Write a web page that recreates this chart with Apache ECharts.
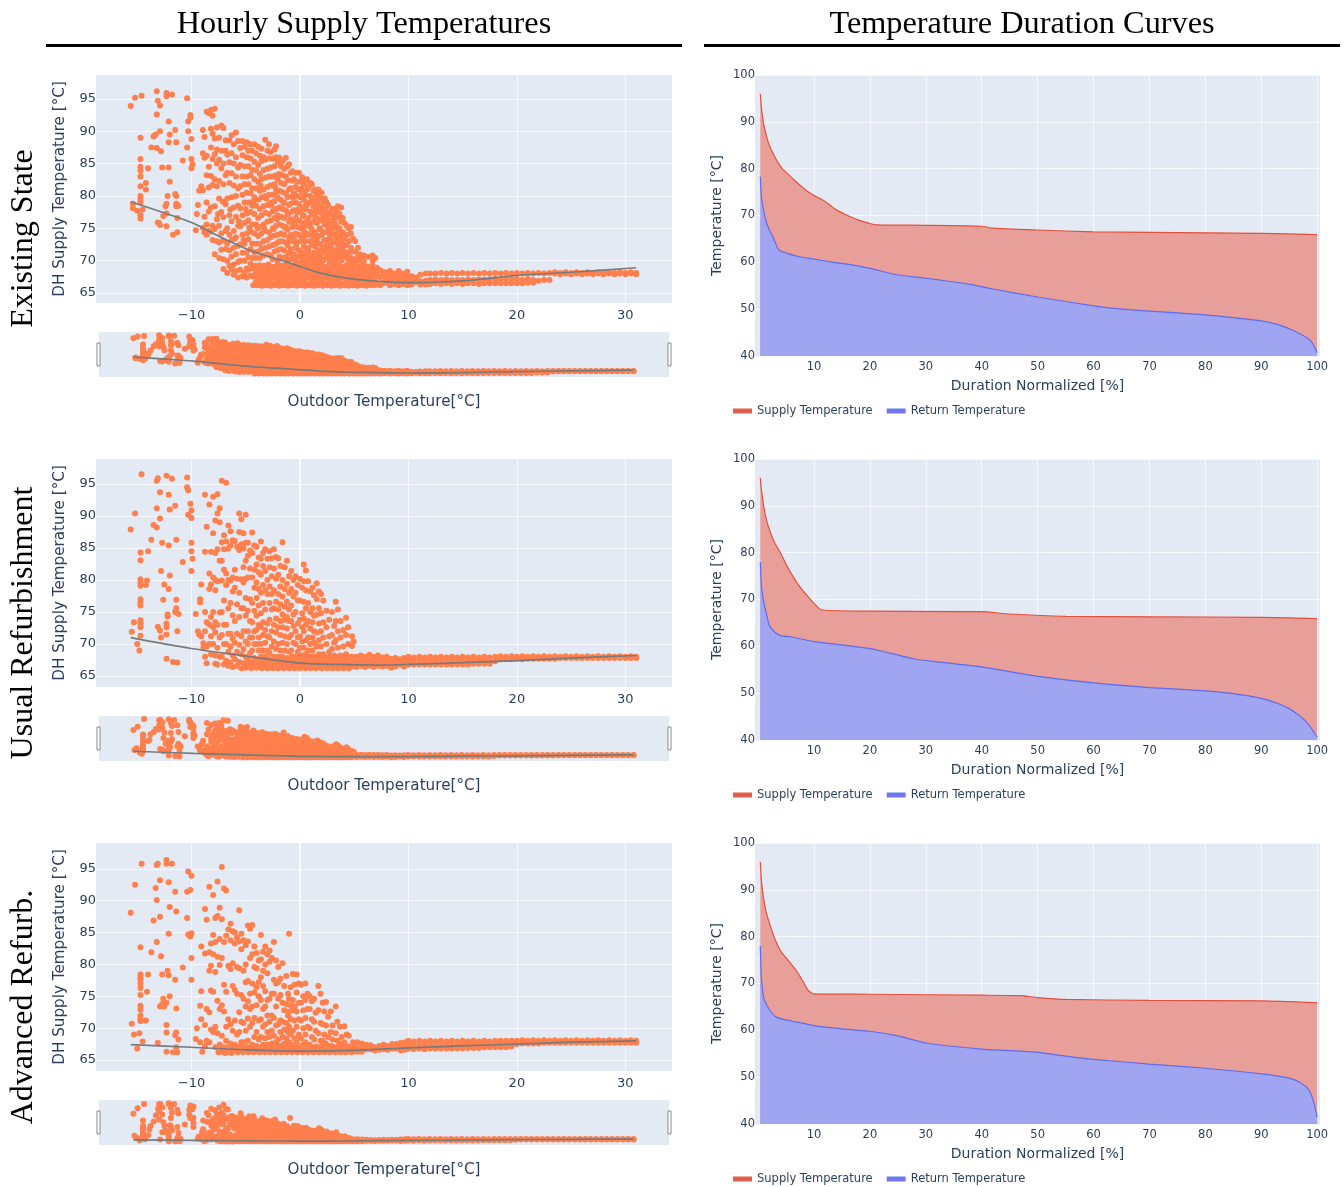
<!DOCTYPE html>
<html><head><meta charset="utf-8">
<style>html,body{margin:0;padding:0;background:#fff}#c{width:1344px;height:1187px}</style>
<script src="https://cdn.jsdelivr.net/npm/echarts@6/dist/echarts.min.js"></script>
</head><body><div id="c"></div>
<script>
const headers = ['Hourly Supply Temperatures','Temperature Duration Curves'];
const rowLabels = ['Existing State','Usual Refurbishment','Advanced Refurb.'];
const outdoorTicks = [-10,0,10,20,30];
const supplyTicks = [65,70,75,80,85,90,95];
const durationTicks = [10,20,30,40,50,60,70,80,90,100];

// scatter points: [outdoor, supply]
const existingSparse = [[-15.6,93.9],[-15.2,95.2],[-14.6,95.5],[-13.2,96.2],[-13.1,94.7],[-12.9,94],[-13.2,92.6],[-12.3,95.9],[-12.3,95.4],[-11.8,95.7],[-10.4,95.1],[-10.1,92.5],[-10.1,92.1],[-10.3,91.5],[-12.1,91.5],[-12.9,90],[-13.3,89.5],[-13.5,89.2],[-14.7,89],[-11.5,90.2],[-12,89.5],[-12.1,88.3],[-11.4,88.3],[-10.3,90],[-10,88.8],[-10.4,87.5],[-13.7,87.5],[-13.2,87.4],[-12.8,86.9],[-10.8,85.5],[-10,85.7],[-9.9,84.9],[-10,84.3],[-14.7,85.7],[-14.7,84.5],[-14.7,83.9],[-14.7,83],[-14,84.3],[-12.7,84.4],[-12.1,84.4],[-12,82.2],[-14.2,82],[-14.7,81.5],[-14.2,81],[-14.7,80],[-14.7,79.4],[-14.7,79],[-15.4,78.8],[-15.4,78.1],[-15,77.7],[-14.5,77.9],[-14.7,77],[-14.7,76.5],[-12.2,80],[-11.5,80.3],[-11.4,80],[-12.3,78.8],[-12.4,78.4],[-11.4,78.8],[-11.4,78.4],[-11.2,78.5],[-12.6,76.9],[-12.3,77.3],[-11.3,76.6],[-13,75.8],[-12.9,75.5],[-12.3,75.3],[-13.1,75.9],[-11.7,74],[-11.3,74.4],[-9.4,78.6],[-9.5,77.2],[-9.6,74.7],[-9.1,81.5],[-9.3,80.8]];
const existingExtra = [[-1.52,78.9],[-1.38,75.1],[-1.07,77.3],[-0.93,73.1],[-0.62,79.7],[-0.47,75.9],[-0.33,72.4],[-0.18,77.9],[0.12,81.1],[0.27,76.9],[0.43,73.9],[0.58,78.7],[0.73,71.5],[0.87,75.7],[1.03,79.1],[1.18,74],[1.33,77.5],[1.48,72.9],[1.63,79.3],[1.78,74.9],[1.93,71.1],[2.08,77.7],[2.23,73.2],[2.38,76.3],[2.53,71.7],[2.68,74.7],[2.83,72.6],[2.98,75.5],[3.13,73],[3.28,70.6],[3.43,74.2],[3.58,71.7],[3.73,74.1],[3.88,72.7],[4.03,70.8],[-2.62,78.5],[-2.42,74.9],[-2.27,81.3],[-2.12,76.4],[-1.97,72.9],[-3.12,79.6],[-3.27,74.9],[-3.62,81.6],[-3.92,75],[-4.32,79.2],[-4.67,75.1],[-5,78],[-5.2,73.2],[-5.63,76.1],[-6.02,73.4],[-6.42,77.9],[-7.1,79.1],[-7.55,77.2]];
const existingBody = [
[-8.95,90.2,86.6,80.9,75.1],[-8.8,89.1,85.9,76.8,74.4],[-8.6,93,86.2,83.2,79,75.6,74],[-8.4,92.8,84.5,81.3,77.6,74.6],
[-8.2,93.3,90.4,87.5,83.1,78.2,74.5],[-8.05,92.4,89.6,85.7,81.7,75.4,73.2],[-7.85,93.5,88.9,86.5,82.6,78.4,74.9,71],[-7.65,90.6,87.2,85,81.5,76.4,73],
[-7.45,89,85.6,82.3,79.6,75.4,72.8,70.4],[-7.25,90.9,87,84.3,77.5,74.2,71.7],[-7.05,90.5,85,81.8,76.7,73.1,70.2,68.7],[-6.85,88.6,87,83.2,78.7,74.6,71.8],
[-6.7,86.4,83.6,79.6,75,72.6,70,68.1],[-6.5,88.6,85.2,82,77,74,71.6,69.2],[-6.3,89.4,86.6,83.5,79.8,76.1,73.2,70.6,68.6],[-6.1,88,85,81.6,78.2,74.6,72,69.4,67.8],
[-5.9,89.8,86,83,80,76.8,73.6,71,68.4],[-5.7,88.5,84.4,81.2,78.5,75.4,72.3,69.8,67.4],[-5.5,87.4,84.8,81.5,78.1,75.3,72.5,70,68.6],[-5.3,88.5,86.3,83,80.2,77,74,71.2,67.6],
[-5.1,87.6,84.6,81.8,79,75.8,72.6,70,68.1],[-4.9,88.3,86,83,80.5,77.3,74.2,71.3,68.8,67.4],[-4.75,87,84.6,81.8,79,76.2,73.3,70.5,68.6],[-4.55,88,85.8,83.2,80.4,77.5,74.5,71.8,69.5,67.7],
[-4.4,87,84,81.2,78.5,75.6,72.6,70.4],[-4.2,88,85.3,82.6,79.8,77.2,74.2,71.3],[-4.05,86.6,84,81.2,78.5,75.6,72.6,70.4],[-3.85,87.6,84.8,82.2,79.4,76.6,73.8,71.4],
[-3.7,86.2,83.4,80.8,78,75.2,72.6,70.4],[-3.55,87.3,85.4,82.6,79.8,77,74.2,71.8],[-3.35,86,84,81,78.4,75.6,73,70.8],[-3.2,88.7,85.6,82.8,80,77.4,74.6,72],
[-3,87,84.2,81.4,78.6,76,73.2,71],[-2.85,88,85.8,83,80.2,77.2,74.4,72.2],[-2.7,86.8,84.4,81.6,79,76.2,73.6,70.8],[-2.5,85.8,83,80.2,77.6,75,72.4,70.2],
[-2.35,87.2,84.6,81.8,79.2,76.6,73.9,71.4],[-2.2,87.7,86,83.2,80.6,78,75.4,72.6],[-2.05,85.2,82.6,79.8,77,74,71.6,70],[-1.9,85.9,83.4,80.8,78.2,75.6,73,70.6],
[-1.75,84.6,82,79.4,76.8,74.2,71.8],[-1.6,85.4,83.2,80.6,78,75.4,73,70.4],[-1.45,84.2,81.8,79,76.6,74,71.6],[-1.3,85.9,83,80.4,77.8,75.2,72.8,70.6],
[-1.15,84.6,82.4,79.8,77.2,74.8,72.4,70],[-1,84.9,81,78.6,76,73.6,71.2],[-0.85,83.6,81.2,78.8,76.4,74,71.8,70.2],[-0.7,83.8,82.4,80,77.6,75.2,73,70.6],
[-0.55,82.6,80.4,77.8,75.4,73.4,71],[-0.4,83.6,81.4,79,76.6,74.2,72,69.8],[-0.25,82.2,80,77.4,75.2,72.8,70.6],[-0.1,83.6,81,78.8,76.2,74,71.6,69.6],
[0.05,82.2,79.8,77.6,75,73,70.8],[0.2,82.9,80.6,78.2,75.8,73.4,71.2,70],[0.35,81.8,79.4,77,74.6,72.2,70.4],[0.5,82.4,80.2,78,75.4,73,71],
[0.65,82.6,81,78.6,76.2,74.2,71.8,69.8],[0.8,81.4,79,76.6,74,72,70.2],[0.95,82,80,77.6,75.2,73,70.8],[1.1,81.8,79.6,77.2,74.8,72.4,70.2],
[1.25,80.8,78.4,76,73.6,71.2,69.8],[1.4,81,79.2,76.8,74.4,72.2,70.4],[1.55,80.2,78,75.8,73.4,71,69.9],[1.7,81,78.6,76.4,73.8,71.6],
[1.85,79.8,77.4,75,72.6,70.6],[2,80.5,78.4,76.2,74,71.8,70.2],[2.15,79.2,77,74.4,72,70],[2.3,79.6,78,75.6,73.2,71.2],
[2.45,79,76.8,74.4,72.4,70.4],[2.6,78.6,77.4,75,72.8,71],[2.75,77.2,75.8,73.6,71.4,69.9],[2.9,78,76.2,74.2,72,70.2],
[3.05,77,75,72.8,70.8],[3.2,78,76.2,74,71.6,70],[3.35,77.6,75.4,73.4,71.2],[3.5,78.4,76.8,74.6,72.4,70.4],
[3.65,77.2,75,72.8,70.6],[3.8,78.2,76,73.6,71.4,70],[3.95,76.6,74.4,72.2,70.4],[4.1,75.8,73.4,71.4],
[4.3,75.4,74,72.4,70.6],[4.5,75,73,71.2,70],[4.7,75.2,74.2,72,70.4],[4.9,73.4,71.4,70],[5.1,73,71.4,70.2],
[5.35,72,70.6],[5.5,71,70],[5.75,70.8,69.9],[5.9,70.8,70],[6.3,70.6],[6.7,70.8,70],[6.95,70.4]
];
const existingBase = [
[-4.3,66.2,67.5,68.8],[-4.1,66.6,67.9,69.2],[-3.9,66.2,67.3,68.5],[-3.7,66.7,68,69.3],[-3.5,66.1,67.3,68.6],[-3.3,66.6,67.9,69.2],[-3.1,66.2,67.4,68.7],[-2.9,66.7,68.1,69.4],[-2.7,66.1,67.3,68.5],[-2.5,66.5,67.8,69],
[-2.3,66.2,67.4,68.7],[-2.1,66.7,68,69.3],[-1.9,66.1,67.3,68.6],[-1.7,66.6,67.9,69.2],[-1.5,66.2,67.4,68.7],[-1.3,66.7,68.1,69.4],[-1.1,66.1,67.3,68.5],[-0.9,66.5,67.8,69],[-0.7,66.2,67.4,68.7],[-0.5,66.7,68,69.3],
[-0.3,66.1,67.3,68.6],[-0.1,66.6,67.9,69.2],[0.1,66.2,67.4,68.7],[0.3,66.7,68.1,69.4],[0.5,66.1,67.3,68.5],[0.7,66.5,67.8,69],[0.9,66.2,67.4,68.7],[1.1,66.7,68,69.3],[1.3,66.1,67.3,68.6],[1.5,66.6,67.9,69.2],
[1.7,66.2,67.4,68.7],[1.9,66.7,68.1,69.4],[2.1,66.1,67.3,68.5],[2.3,66.5,67.8,69],[2.5,66.2,67.4,68.7],[2.7,66.7,68,69.3],[2.9,66.1,67.3,68.6],[3.1,66.6,67.9,69.2],[3.3,66.2,67.4,68.7],[3.5,66.7,68.1,69.4],
[3.7,66.1,67.3,68.5],[3.9,66.5,67.8,69],[4.1,66.2,67.4,68.7],[4.3,66.7,68,69.3],[4.5,66.1,67.3,68.6],[4.7,66.6,67.9,69.2],[4.9,66.2,67.4,68.7],[5.1,66.7,68.1,69.4],[5.3,66.1,67.3,68.5],[5.5,66.5,67.8,69],
[5.7,66.2,67.4,68.7],[5.9,66.7,68,69.3],[6.1,66.1,67.3,68.6],[6.3,66.6,67.9,69.1],[6.5,66.2,67.4,68.6],[6.7,66.7,68,69.2],[6.9,66.2,67.3,68.5],[7.1,66.5,67.8,68.9],[7.4,66.2,67.4,68.5],[7.7,66.6,67.9,68.2],
[7.9,68.2,67.4,66.6],[8.3,68.4,67.6,66.8,66.2],[8.7,68,67.2,66.4],[9.1,68.4,67.6,66.8,66.2],[9.5,68,67.2,66.4],[9.9,68.3,67.5,66.7,66.2],[10.3,67.6,66.9,66.3],[10.7,67.4,66.7],[11.1,67.8,66.8,66.3],[11.6,68,66.9,66.3],[12,68,67,66.4],
[12.5,68,67.1,66.5],[13,68.1,67,66.4],[13.5,68,67.1,66.5],[14,68.1,67,66.4],[14.5,68,67,66.5],[15,68.1,67,66.4],[15.5,68,67.1,66.5],[16,68.1,67,66.5],[16.5,68,67.1,66.4],[17,68.1,67.1,66.5],[17.5,68,67.1,66.5],[18,68.1,67.2,66.5],[18.5,68,67.1,66.5],[19,68.1,67.2,66.5],[19.5,68,67.2,66.5],[20,68.1,67.2,66.5],[20.5,68,67,66.5],[21,68.1,67.2,66.6],[21.5,68,67,66.6],[22,68.1,66.9],[22.5,68,67],[23,68.1,67],
[23.5,68,68.2],[24,68.1,67.9],[24.5,68,68.2],[25,68.1,67.9],[25.5,68,68.2],[26,68.1,67.9],[26.5,68,68.2],[27,68.1,67.9],[27.5,68,68.2],[28,68.1,67.9],[28.5,68,68.2],[29,68.1,67.9],[29.5,68,68.2],[30,68.1,67.9],[30.5,68,68.2],[31,68.1,67.9]
];
const usualSparse = [[-14.6,96.5],[-13.2,95.5],[-13.1,95.9],[-12.3,96.3],[-11.8,95.8],[-10.4,96],[-10.4,94.5],[-10.3,94],[-12.9,93.7],[-12.1,93.3],[-10.1,91.9],[-10,90.9],[-11.5,91.6],[-12,91],[-13.2,91.2],[-15.2,90.4],[-10.3,90.2],[-10,89.7],[-12.9,89.6],[-13.5,88.6],[-13.2,88.2],[-15.6,87.9],[-13.7,86.3],[-12.7,85.8],[-12.1,85.4],[-11.4,86.3],[-10,85.8],[-10,84.5],[-9.9,83.3],[-10.8,82.8],[-10,81.4],[-14.7,84.3],[-14,84.5],[-14.7,83.1],[-12.8,81.4],[-12,80.7],[-14.7,80.1],[-14.7,79.6],[-14.7,79.1],[-14.1,79.9],[-14.2,79.2],[-12.5,79.3],[-12.1,78.6],[-12.6,76.9],[-11.4,76.9],[-14.7,77],[-14.7,76.5],[-14.7,76],[-12.2,74.6],[-12.2,74.3],[-11.4,75.6],[-11.5,75],[-11.2,74.7],[-15.3,73.4],[-14.7,73.7],[-14.7,73.2],[-14.7,72.6],[-15.5,71.9],[-14.7,71.3],[-15,70],[-14.8,69],[-13.1,72.7],[-12.9,72.1],[-12.3,73.2],[-12.3,72.6],[-12.3,71.5],[-11.3,72],[-12.8,71],[-12.3,67.7],[-11.7,67.2],[-11.3,67.1],[-9.6,74.7],[-9.4,72],[-9.3,71.5],[-9.1,79.3],[-9.2,77],[-9.2,76.5],[-9.1,71.2],[-8.9,70.1],[-8.9,69.4]];
const usualBody = [
[-8.75,93.3,84.4,75,72,68],[-8.6,88.3,73.4,69.6,67],[-8.35,91.8,81,78.6,73,70],[-8.2,84.4,79.3,74.2,71.2,68.4],
[-8,93,87.3,80.4,75,72.6,70],[-7.8,89.3,84.2,80,78.4,73.4,71.8,68.2,66.9],[-7.6,93.4,90.4,84.8,79.8,73,69.4,66.8],[-7.4,91.2,89,83,74.9,71,68],
[-7.2,95.5,85.9,83,79.9,75,71.4,68],[-7,87,84.8,81.6,76.8,73,70,66.8],[-6.8,95.2,86,81,79.2,73,70,67.4],[-6.6,88.5,84.9,80,75.6,71.6,68.8,66.6],
[-6.4,87.6,85.4,79.9,76.4,71.6,69.6,67.1],[-6.2,86.2,80.4,78.2,74.5,70.8,68.2,66.4],[-6,86.1,81.6,78.8,73.6,70.2,67.6],[-5.8,85.2,80.2,76.2,71.6,68.8,66.6],
[-5.6,90.4,87.5,84.7,78,74.2,69.9,67.2],[-5.4,89.5,85.6,80.1,75.6,71.2,68.4,66.2],[-5.2,87.3,84.9,82,79.6,75.6,72,69.2,67],[-5,90.2,85.8,83,80.2,77.2,74.4,70.4,68],
[-4.8,85.8,83.8,80.4,75.2,72,70,67.6],[-4.6,84.6,81.8,77,73.6,71,68.6],[-4.4,87.4,84.2,80.4,76.4,73.4,71,69],[-4.2,85.4,81.6,78.8,75.2,72,70,67.8],
[-4,85.2,82.4,79.6,77.2,74.4,72.2,70],[-3.8,83.5,81.2,78.6,76,73,71,69],[-3.6,86,83.3,80.8,78,74.8,72.6,70,68],[-3.4,84.2,82.2,79.2,76.4,73.4,71.4,69],
[-3.2,84.8,81.4,78.4,75.4,72.2,70.2,68],[-3,83.3,80,77.8,73.2,71.2,69],[-2.8,84.5,82,79,76.4,73.8,71,68.6],[-2.6,83.4,80.6,77.8,75.4,72,69.6,67.6],
[-2.4,84.8,81.8,78.4,75.6,73,70.4,68],[-2.2,83.6,80.2,76.6,74,71.8,69.2],[-2,83.4,80.8,77.8,75.4,72.6,70,68],[-1.8,82.2,79,76.2,73.6,71.4,69],
[-1.6,85.9,80,77.4,74.6,72.6,70.2,68],[-1.4,82,78.6,75.8,73.8,71.2,69],[-1.2,83,79.4,76.6,74.2,72.4,70,67.8],[-1,80.6,78,75.4,73.6,71,68.8],
[-0.8,81.4,78.6,76,73.6,71.4,69],[-0.6,80,77.4,74.6,72.8,70.2,68],[-0.4,80.6,78,75,72,70,67.8],[-0.2,79.2,76.8,73.2,71,68.8],
[0,80.2,76.8,73.8,71.2,69.4],[0.2,78.8,74.8,72.6,70.4,68.2],[0.35,82.4,79.8,76.6,74,72,69.4],[0.55,81.5,78.4,75.6,73,70.6,68.4],
[0.75,79.8,76.4,73.6,71,69],[0.95,78.2,75,72.4,70,68],[1.15,78.8,75.6,73.4,71,69],[1.3,77.6,74.4,72,70.2,68],
[1.55,79.5,77,74.6,71.8,69.6],[1.75,78.2,75.6,73.2,70.6,68.4],[1.95,77.8,74.8,72,69.6],[2.15,76.8,73.4,71,68.4],
[2.45,75.2,72.6,70,67.8],[2.7,73.8,71.2,68.8],[2.95,75,71.4,69.2],[3.15,72.8,70.2,68.2],
[3.3,76.6,73.6,70.6,68],[3.5,75.4,72,69.4],[3.75,73.6,71,68.2],[4,72.2,69.6],
[4.25,74.1,71.4,68.4],[4.45,72.6,70],[4.8,71.2,69.7,68],[4.95,70.4]
];
const usualBase = [
[-5,66.3,67],[-4.75,66.6,67.3],[-4.5,66.2,67],[-4.25,66.5,67.3],[-4,66.3,67.1],[-3.75,66.6,67.4],[-3.5,66.2,67],[-3.25,66.5,67.3],[-3,66.2,67,67.7],[-2.75,66.5,67.3],[-2.5,66.2,67,67.7],[-2.25,66.5,67.3],[-2,66.2,67,67.7],[-1.75,66.5,67.3],[-1.5,66.2,67,67.7],[-1.25,66.5,67.3],
[-1,66.2,67,67.7],[-0.75,66.5,67.3,68],[-0.5,66.2,67,67.7],[-0.25,66.5,67.3,68],[0,66.2,67,67.7],[0.25,66.5,67.3,68],[0.5,66.2,67,67.7],[0.75,66.5,67.3,68],[1,66.2,67,67.7],[1.25,66.5,67.3,68],[1.5,66.2,67,67.7],[1.75,66.5,67.3,68],[2,66.2,67,67.7],[2.25,66.5,67.3,68],[2.5,66.2,67,67.7],[2.75,66.5,67.3,68],
[3,66.2,67,67.7],[3.25,66.5,67.3,68],[3.5,66.2,67,67.7],[3.75,66.5,67.3,68],[4,66.2,67,67.7],[4.25,66.5,67.3,68],[4.5,66.2,67,67.7],[4.75,66.5,67.3,68],
[5.2,68,67.2,66.4],[5.6,68.2,67.4,66.6],[6,68,67.2,66.4],[6.4,68.3,67.4,66.6],[6.8,68,67.2,66.4],[7.2,68.2,67.4,66.6],[7.6,67.9,67.2,66.5],[8,68,67.3,66.6],[8.4,67.7,66.9,66.3],[8.8,67.8,67.1,66.5],[9.2,67.6,66.8],[9.6,67.8,67.1,66.5],
[10,68,67.4,66.8],[10.5,67.9,67.3,66.8],[11,68,67.4,66.8],[11.5,67.9,67.3,66.8],[12,68,67.4,66.8],[12.5,67.9,67.3,66.8],[13,68,67.4,66.8],[13.5,67.9,67.3,66.8],[14,68,67.4,66.8],[14.5,67.9,67.3,66.8],[15,68,67.4,66.8],[15.5,67.9,67.3,66.8],[16,68,67.4,66.9],[16.5,67.9,67.3,66.9],[17,68,67.4,66.9],[17.5,67.9,67.3,66.9],[18,68,67.3],
[18.5,68.1,67.6],[19,68,67.6],[19.5,68.1,67.6],[20,68,67.7],[20.5,68.1,67.6],[21,68,67.7],[21.5,68.1,67.7],[22,68,67.7],[22.5,68.1,67.7],[23,68,67.7],[23.5,68.1,67.7],[24,68,67.8],[24.5,68.1,67.8],[25,68,67.8],[25.5,68.1,67.8],[26,68,67.8],[26.5,68.1,67.8],[27,68,67.8],[27.5,68.1,67.8],[28,68,67.8],[28.5,68.1,67.8],[29,68,67.8],[29.5,68.1,67.8],[30,68,67.8],[30.5,68.1,67.8],[31,68,67.8]
];
const advancedSparse = [[-14.6,95.8],[-13.2,95.6],[-13.1,95.8],[-12.3,96.4],[-12.3,95.8],[-11.8,95.8],[-10.3,94.6],[-10,93.9],[-15.2,92.5],[-12.9,93.2],[-12.1,92.9],[-13.3,92],[-11.5,91.4],[-10.4,91.4],[-10.1,91.7],[-13.2,90.1],[-15.6,88.1],[-12,89],[-12.9,87.5],[-13.5,86.9],[-11.4,88.3],[-10.4,87.3],[-12.1,84.8],[-10.3,84.7],[-10,84.9],[-10.1,84.4],[-14.7,82.7],[-13.2,83.5],[-13.7,81.9],[-12.8,81.3],[-10,81],[-10.8,79.5],[-14.7,78.4],[-14.7,78],[-14.7,77.6],[-14.7,77],[-14,78.4],[-12.7,78.4],[-12.2,79],[-12.1,78.3],[-11.5,77.6],[-10,77.6],[-14.7,76.3],[-14.7,75.2],[-14.1,75.7],[-12,75],[-12.6,74.6],[-12.7,73.8],[-12.9,73.4],[-12.3,74],[-12.5,73.4],[-11.4,73.1],[-14.7,73.5],[-14.7,72.9],[-14.7,72],[-14.7,71.5],[-14.7,71.1],[-14.2,71.2],[-15.5,70.7],[-15.3,69],[-14.8,69.2],[-14.5,67.9],[-15,66.8],[-13.1,67.7],[-12.3,70.5],[-12.3,69.3],[-11.4,69.3],[-11.5,68.9],[-11.2,68.2],[-12.3,66.3],[-11.7,66.2],[-11.3,66.2],[-11.4,67],[-9.5,70],[-9.6,68.3],[-9.1,82.8],[-9.1,75.8],[-9.2,73.5],[-9.1,71.4],[-9.2,67.8],[-9,66.3]];
const advancedBody = [
[-8.75,88.7,81.7,70.5,67.2],[-8.6,87,73,68],[-8.35,92.2,81.9,79,72.5,67.8],[-8.2,83.3,79.8,75.9,69.8],
[-8,90.9,84.6,81.6,75.7,69.4],[-7.8,87.3,83.5,78.8,70.2,67],[-7.6,93,87.6,81.2,74.3,69.2],[-7.4,88.9,84,79.9,73,67.4],
[-7.2,95.3,87.1,81,73.6,68.8],[-7,91.9,83.5,76.8,72.6,67],[-6.8,91.6,84.5,75.7,70.2,68],[-6.6,85.5,79.8,71.4,67],
[-6.4,86.4,83.8,79.3,70.6,67.6],[-6.2,85.2,80.2,76.6,69.6],[-6,85,83.3,76,71.2,67.4],[-5.8,84.2,79.6,75.4,69],
[-5.6,88.5,83.6,79.4,72.5,69.4],[-5.4,84.8,82.4,75.2,71,67.8],[-5.2,83.8,79,74.6,70.8,67.8],[-5,83,80,77.2,73.4,69.6],
[-4.8,86.1,83.6,77.4,74.2,71.5,68],[-4.6,85.6,81,75.4,73,70.2],[-4.4,86.2,81.6,77,73.4,70.8,67.4],[-4.2,82.8,79.6,75.6,71.6,68.6],
[-4,81.8,79.4,76.4,73.6,69.4,67.2],[-3.8,80.6,77.2,75,71.2,68.2],[-3.6,84.6,80.8,78,74.4,71.4,68.6],[-3.4,82,79,76.6,73,70.2,67.4],
[-3.2,82.8,80,75.8,73.4,70.6,68.4],[-3,81.6,78.6,74.4,72,69.4,67.4],[-2.8,82.2,80.4,74.6,71,68.6],[-2.6,81,75.4,72,69.6,67.6],
[-2.4,83.5,77.6,75.4,71.6,68.8],[-2.2,80.6,77,73.4,70.4,67.8],[-2,79.6,77.2,74.6,70.6,68.2],[-1.8,77.8,75.2,71.2,69.4,67.2],
[-1.6,80.2,74,71,68.6],[-1.45,76.6,72.8,69.8,67.6],[-1.25,78.2,73.8,70.8,68.4],[-1.1,75.4,72,69.4,67.4],
[-1,84.8,74.6,72.6,70.2,67.8],[-0.85,76.4,73.6,71.4,69],[-0.65,78.5,74.4,72.8,69.6,67.4],[-0.5,76.8,73.4,71.2,68.4],
[-0.3,78.4,75.6,72.6,70.2,67.8],[-0.1,77,74,71.4,69],[0.1,76.8,74,71.2,68.4],[0.3,75,72.8,70,67.4],
[0.5,77,74.4,71.6,69,67.8],[0.7,75.4,73,70.2],[0.9,75,73,70,67.4],[1.1,74.2,71.4,68.6],
[1.3,74.6,71,68.2],[1.45,72.4,69.6],[1.7,76.6,72.8,69.2],[1.9,75.4,70.8,68],
[2.1,74,70.6,68],[2.25,72.6,69],[2.4,74.1,70.4,67.6],[2.6,71.8,68.6],
[2.85,72.6,69.4,67.2],[3,70.4,68.2],[3.3,73.4,69.2],[3.45,71,68],
[3.7,70.2,67.6],[3.85,68.6],[4.1,70.3,67.8],[4.3,69],[4.5,68.8],[4.9,67.8],[5.3,67.8]
];
const advancedBase = [
[-7.5,66.2],[-7.2,66.3,66.9],[-6.9,66.1,66.8],[-6.6,66.3,67],[-6.3,66.1,66.8],[-6,66.4,67],[-5.75,66.2,66.8],[-5.5,66.4,67.1],[-5.25,66.2,66.8],[-5,66.4,67.1],[-4.75,66.2,66.8],[-4.5,66.4,67.1],[-4.25,66.2,66.8],[-4,66.4,67.1],[-3.75,66.2,66.8],[-3.5,66.4,67.1],[-3.25,66.2,66.8],[-3,66.4,67.1],
[-2.75,66.2,66.8],[-2.5,66.4,67.1],[-2.25,66.2,66.8],[-2,66.4,67.1],[-1.75,66.2,66.8],[-1.5,66.4,67.1],[-1.25,66.2,66.8],[-1,66.4,67.1],[-0.75,66.2,66.8],[-0.5,66.4,67.1],[-0.25,66.2,66.8],[0,66.4,67.1],[0.25,66.2,66.8],[0.5,66.4,67.1],[0.75,66.2,66.8],[1,66.4,67.1],[1.25,66.2,66.8],[1.5,66.4,67.1],[1.75,66.2,66.8],[2,66.4,67.1],[2.25,66.2,66.8],[2.5,66.4,67.1],[2.75,66.2,66.8],[3,66.4,67.1],[3.25,66.2,66.8],[3.5,66.4,67.1],[3.75,66.2,66.8],[4,66.4,67.1],[4.25,66.2,66.8],[4.5,66.4,67.1],[4.75,66.2,66.8],[5,66.4,67],[5.3,66.3,66.9],
[5.7,67.6,66.8,66.3],[6.1,67.4,66.7],[6.5,67.3,66.7],[6.9,67,66.5],[7.3,67.2,66.6],[7.7,67.4,66.7],[8.1,67.2,66.6],[8.5,67.5,66.8],[8.9,67.5,66.8],[9.3,67.7,67,66.5],[9.7,67.8,67.1,66.6],
[10,68,67.3,66.8],[10.5,67.9,67.3,66.7],[11,68,67.3,66.8],[11.5,67.9,67.3,66.7],[12,68,67.3,66.8],[12.5,67.9,67.3,66.8],[13,68,67.3,66.8],[13.5,67.9,67.3,66.8],[14,68,67.3,66.8],[14.5,67.9,67.3,66.8],[15,68,67.4,66.8],[15.5,67.9,67.3,66.9],[16,68,67.4,66.9],[16.5,67.9,67.4,66.9],[17,68,67.4,67],[17.5,67.9,67.4,67],[18,68,67.4,67],[18.5,68,67.4,67],[19,68,67.4,67],[19.5,68,67.5,67.1],[20,68,67.5],
[20.5,68.1,67.6],[21,68,67.6],[21.5,68.1,67.6],[22,68,67.6],[22.5,68.1,67.7],[23,68,67.7],[23.5,68.1,67.7],[24,68,67.7],[24.5,68.1,67.7],[25,68,67.7],[25.5,68.1,67.7],[26,68,67.7],[26.5,68.1,67.7],[27,68,67.7],[27.5,68.1,67.7],[28,68,67.7],[28.5,68.1,67.7],[29,68,67.7],[29.5,68.1,67.7],[30,68,67.7],[30.5,68.1,67.7],[31,68,67.7]
];
// fitted trend lines
const existingTrend = [[-15.6,79.1],[-12.9,77.6],[-10,75.9],[-7.4,73.7],[-4.3,71.4],[-1.25,69.8],[0,69.1],[1.8,68.1],[4.25,67.3],[7.3,66.8],[10,66.6],[13,66.7],[16,67],[20,67.7],[25,68.2],[31,68.9]];
const usualTrend = [[-15.6,71],[-10,69.3],[-5.8,68.3],[-2.8,67.6],[0,67],[3.3,66.8],[7.3,66.7],[10,66.8],[15,67.1],[20,67.4],[25,67.8],[31,68.2]];
const advancedTrend = [[-15.6,67.4],[-10,67],[-5,66.6],[0,66.4],[5,66.5],[10,66.9],[15,67.2],[20,67.5],[25,67.8],[31,68]];

// duration curves: [duration %, temperature]
const existingSupply = [[0.4,96],[0.6,93],[1,89.5],[1.5,87],[2,85],[3,82.5],[4,80.5],[5,79.2],[7,77],[9,75],[10,74.3],[12,73],[14,71.2],[16,70],[18,69],[20,68.3],[21,68],[30,67.9],[40,67.7],[42,67.3],[50,66.9],[60,66.5],[70,66.4],[80,66.3],[90,66.2],[100,65.9]];
const existingReturn = [[0.4,78.3],[0.6,74],[1,71],[1.5,68.5],[2,67],[3,64.5],[3.5,63],[4,62.4],[5,62],[7,61.3],[10,60.7],[13,60.1],[16,59.6],[20,58.7],[25,57.3],[30,56.6],[38,55.3],[42,54.3],[50,52.6],[60,50.7],[65,50],[70,49.6],[80,48.8],[85,48.2],[90,47.5],[93,46.7],[96,45.3],[98,44],[99,43],[99.7,41.5],[100,40.7]];
const usualSupply = [[0.4,96],[0.6,93.5],[1,90],[1.5,87],[2,85],[3,82],[4,80],[5,77.5],[7,73.5],[9,70.5],[11,68],[12,67.7],[20,67.5],[40,67.4],[45,66.9],[55,66.4],[70,66.3],[90,66.2],[100,65.9]];
const usualReturn = [[0.4,78],[0.6,73],[1,69.5],[1.5,67],[2,64.5],[3,63],[4,62.3],[6,62],[10,61],[15,60.3],[20,59.5],[22,59],[28,57.3],[32,56.7],[40,55.6],[45,54.6],[50,53.6],[60,52.2],[70,51.2],[80,50.5],[85,49.9],[90,48.9],[93,47.8],[95,46.7],[97,45],[98.5,43.3],[99.5,41.5],[100,40.6]];
const advancedSupply = [[0.4,96],[0.6,92],[1,88],[1.5,85],[2,83],[3,79.5],[4,77],[5,75.5],[7,72.5],[8,70.5],[9,68.5],[10,67.8],[20,67.7],[40,67.5],[47,67.4],[50,67],[55,66.6],[70,66.4],[90,66.3],[100,65.9]];
const advancedReturn = [[0.4,78],[0.6,71],[1,67],[1.5,65.5],[2,64.5],[3,63],[4,62.5],[6,62],[10,61],[15,60.3],[20,59.8],[25,58.8],[30,57.3],[40,56],[50,55.3],[55,54.5],[60,53.8],[70,52.8],[80,51.9],[90,50.7],[95,49.8],[97,48.8],[98.5,47.3],[99.3,45],[100,41.5]];

const rows = [
 {sparse:existingSparse.concat(existingExtra),cols:existingBody.concat(existingBase),trend:existingTrend,supply:existingSupply,ret:existingReturn,yr:{min:63.45,max:98.7}},
 {sparse:usualSparse,cols:usualBody.concat(usualBase),trend:usualTrend,supply:usualSupply,ret:usualReturn,yr:{min:63.28,max:98.9}},
 {sparse:advancedSparse,cols:advancedBody.concat(advancedBase),trend:advancedTrend,supply:advancedSupply,ret:advancedReturn,yr:{min:63.27,max:99.06}}
];
const INK='#2a3f5f', BG='#e3eaf4', DOT='#ff7f4d', GREY='#7a7a7a';
const SANS='"DejaVu Sans"', SERIF='"Liberation Serif"';
const grids=[],xAxes=[],yAxes=[],series=[],legends=[],graphics=[];

function addGrid(rect,xa,ya){grids.push(Object.assign({backgroundColor:BG,show:true,borderWidth:0,containLabel:false},rect));
 const i=grids.length-1;xAxes.push(Object.assign({type:'value',gridIndex:i,axisLine:{show:false},axisTick:{show:false}},xa));
 yAxes.push(Object.assign({type:'value',gridIndex:i,axisLine:{show:false},axisTick:{show:false}},ya));return i;}
const whiteSplit={show:true,lineStyle:{color:'#f6f8fc',width:1}};
const XR={min:-18.8,max:34.3};

rows.forEach((r,k)=>{
 const off=k*384, YR=r.yr;
 const pts=r.sparse.concat(r.cols.flatMap(([x,...ys])=>ys.map(y=>[x,y])));
 const a=addGrid({left:96,top:75+off,width:576,height:228},
  Object.assign({},XR,{axisLabel:{show:true,color:INK,fontFamily:SANS,fontSize:13,margin:6,customValues:outdoorTicks,hideOverlap:false,formatter:v=>String(v).replace('-','\u2212')},axisTick:{show:false,customValues:outdoorTicks},splitLine:whiteSplit}),
  Object.assign({},YR,{name:'DH Supply Temperature [°C]',nameLocation:'middle',nameGap:28,nameTextStyle:{color:INK,fontFamily:SANS,fontSize:15.2},
   axisLabel:{color:INK,fontFamily:SANS,fontSize:13,margin:0,padding:[3,0,0,0],customValues:supplyTicks},axisTick:{show:false,customValues:supplyTicks},splitLine:whiteSplit}));
 const b=addGrid({left:99,top:332+off,width:570,height:45},
  Object.assign({},XR,{name:'Outdoor Temperature[°C]',nameLocation:'middle',nameGap:18,nameTextStyle:{color:INK,fontFamily:SANS,fontSize:15.2},axisLabel:{show:false},splitLine:{show:false}}),
  Object.assign({},YR,{axisLabel:{show:false},splitLine:{show:false}}));
 const c=addGrid({left:755,top:75+off,width:565,height:281},
  {min:-0.55,max:100.5,name:'Duration Normalized [%]',nameLocation:'middle',nameGap:23,nameTextStyle:{color:INK,fontFamily:SANS,fontSize:14},
   axisLabel:{color:INK,fontFamily:SANS,fontSize:11.5,margin:5,customValues:durationTicks},axisTick:{show:false,customValues:durationTicks},splitLine:whiteSplit},
  {min:40,max:100,interval:10,name:'Temperature [°C]',nameLocation:'middle',nameGap:31,nameTextStyle:{color:INK,fontFamily:SANS,fontSize:14},
   axisLabel:{color:INK,fontFamily:SANS,fontSize:11.5,margin:0,padding:[3,0,0,0]},splitLine:whiteSplit});
 [a,b].forEach(g=>{
  series.push({type:'line',name:'zero axis',xAxisIndex:g,yAxisIndex:g,z:1,symbol:'none',silent:true,lineStyle:{color:'#fbfcfe',width:g===a?2:0},data:[[0,YR.min],[0,YR.max]]});
  series.push({type:'scatter',name:'Hourly supply',xAxisIndex:g,yAxisIndex:g,z:2,symbolSize:6,itemStyle:{color:DOT,opacity:1},data:pts,clip:true,silent:true,large:false});
  series.push({type:'line',name:'Trend',xAxisIndex:g,yAxisIndex:g,z:3,symbol:'none',smooth:0.3,lineStyle:{color:GREY,width:1.7},data:r.trend,silent:true});
 });
 series.push({type:'line',name:'Supply Temperature',xAxisIndex:c,yAxisIndex:c,z:2,symbol:'none',smooth:0.2,lineStyle:{color:'#e4503c',width:1.2},itemStyle:{color:'#e4604e'},areaStyle:{color:'#e89890',opacity:0.92,origin:'start'},data:r.supply,silent:true});
 series.push({type:'line',name:'Return Temperature',xAxisIndex:c,yAxisIndex:c,z:3,symbol:'none',smooth:0.2,lineStyle:{color:'#5f6bf0',width:1.2},itemStyle:{color:'#6f7af2'},areaStyle:{color:'#9aa6f8',opacity:0.93,origin:'start'},data:r.ret,silent:true});
 legends.push({left:728,top:400+off,orient:'horizontal',itemWidth:19,itemHeight:5,itemGap:14,icon:'rect',selectedMode:false,data:['Supply Temperature','Return Temperature'],textStyle:{color:INK,fontFamily:SANS,fontSize:11.5}});
 [97,668].forEach(x=>graphics.push({type:'rect',shape:{x:x,y:343+off,width:3,height:23},style:{fill:'#fff',stroke:'#8a8a8a',lineWidth:1}}));
});

const rowY=[238.5,623,1007];
rowLabels.forEach((t,i)=>graphics.push({type:'text',x:24,y:rowY[i],rotation:Math.PI/2,style:{text:t,fill:'#000',font:'32px '+SERIF,textAlign:'center',textVerticalAlign:'middle'}}));
[[364,46,636],[1022,704,636]].forEach(([cx,x,w],i)=>{
 graphics.push({type:'text',x:cx,y:25,style:{text:headers[i],fill:'#000',font:'32.3px '+SERIF,textAlign:'center',textVerticalAlign:'middle'}});
 graphics.push({type:'rect',shape:{x:x,y:44,width:w,height:3},style:{fill:'#000'}});
});

const chart=echarts.init(document.getElementById('c'),null,{renderer:'canvas'});
chart.setOption({animation:false,backgroundColor:'#fff',grid:grids,xAxis:xAxes,yAxis:yAxes,series,legend:legends,graphic:graphics,tooltip:{show:false}});
</script></body></html>
